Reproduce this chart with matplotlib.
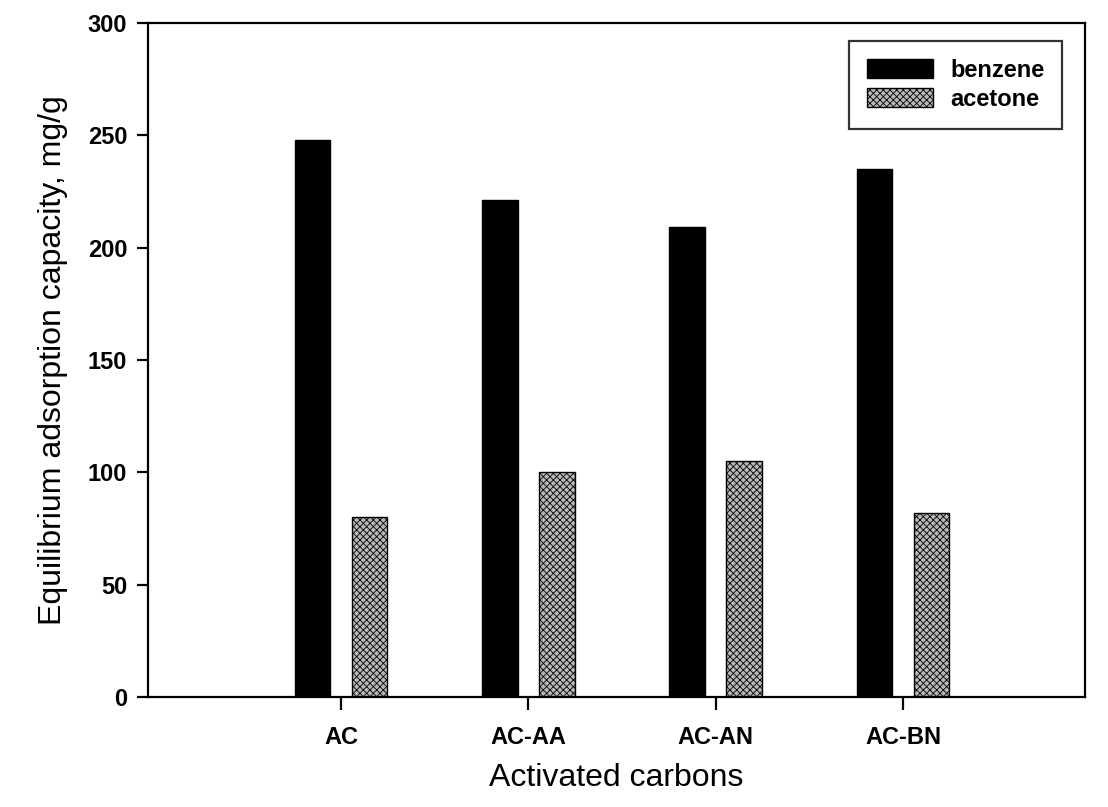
import numpy as np
import matplotlib
matplotlib.use("Agg")
import matplotlib.pyplot as plt

plt.rcParams["font.family"] = ["Liberation Sans", "DejaVu Sans"]
plt.rcParams["hatch.linewidth"] = 0.6
plt.rcParams["hatch.color"] = "#2a2a2a"

# values
carbons = ["AC", "AC-AA", "AC-AN", "AC-BN"]
benzene = [248, 221, 209, 235]
acetone = [80, 100, 105, 82]

x = np.arange(1, len(carbons) + 1)
width = 0.19
offset = 0.152

fig = plt.figure(figsize=(11.08, 8.07), dpi=100)
ax = fig.add_axes([0.1336, 0.1363, 0.8455, 0.8352])

ax.bar(x - offset, benzene, width, color="black", edgecolor="black",
       label="benzene")
ax.bar(x + offset, acetone, width, color="#b8b8b8", edgecolor="black",
       linewidth=1.0, hatch="xxxxx", label="acetone")

ax.set_xlim(-0.03, 4.97)
ax.set_ylim(0, 300)
ax.set_xticks(x)
ax.set_xticklabels(carbons)
ax.set_yticks([0, 50, 100, 150, 200, 250, 300])

for spine in ax.spines.values():
    spine.set_linewidth(1.6)

ax.tick_params(axis="y", direction="out", length=8, width=1.6,
               labelsize=17, pad=7)
ax.tick_params(axis="x", direction="out", length=9, width=1.6,
               labelsize=17, pad=12)
for lab in ax.get_xticklabels() + ax.get_yticklabels():
    lab.set_fontweight("bold")

ax.set_xlabel("Activated carbons", fontsize=23, labelpad=10)
ax.set_ylabel("Equilibrium adsorption capacity, mg/g", fontsize=23,
              labelpad=14)

leg = ax.legend(loc="upper right", bbox_to_anchor=(0.976, 0.973),
                prop={"size": 17, "weight": "bold"}, frameon=True,
                fancybox=False, edgecolor="black", handlelength=2.8,
                handleheight=0.85, borderpad=0.75, labelspacing=0.25,
                handletextpad=0.75, borderaxespad=0.0)
leg.get_frame().set_linewidth(1.6)

fig.savefig("out.png", dpi=100)
